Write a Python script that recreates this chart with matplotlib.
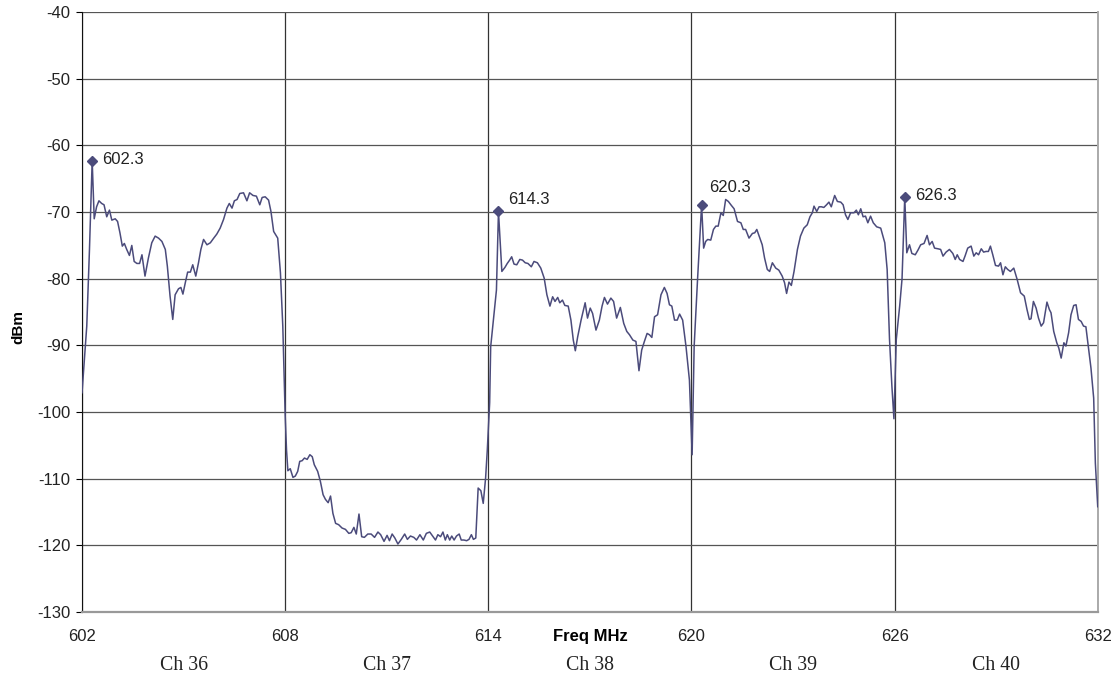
"""Spectrum sweep, Ch 36 - Ch 40"""

import matplotlib

matplotlib.use("Agg")
import matplotlib.pyplot as plt

# Trace (MHz, dBm)
freq = [
    602.00, 602.14, 602.22, 602.30, 602.36, 602.43, 602.50, 602.58, 602.65,
    602.73, 602.81, 602.88, 602.98, 603.05, 603.12, 603.19, 603.25, 603.32,
    603.40, 603.47, 603.54, 603.62, 603.70, 603.77, 603.86, 603.96, 604.06,
    604.16, 604.26, 604.36, 604.46, 604.52, 604.60, 604.68, 604.75, 604.85,
    604.92, 604.98, 605.05, 605.12, 605.20, 605.27, 605.36, 605.44, 605.51,
    605.59, 605.69, 605.79, 605.89, 605.98, 606.08, 606.18, 606.28, 606.35,
    606.43, 606.50, 606.58, 606.66, 606.77, 606.87, 606.95, 607.05, 607.15,
    607.25, 607.32, 607.41, 607.51, 607.58, 607.66, 607.78, 607.86, 607.93,
    608.00, 608.04, 608.08, 608.15, 608.23, 608.30, 608.37, 608.43, 608.50,
    608.57, 608.65, 608.73, 608.80, 608.86, 608.96, 609.04, 609.12, 609.19,
    609.27, 609.34, 609.41, 609.49, 609.58, 609.68, 609.78, 609.88, 609.95,
    610.03, 610.10, 610.18, 610.26, 610.34, 610.44, 610.54, 610.64, 610.74,
    610.82, 610.92, 611.01, 611.08, 611.16, 611.24, 611.33, 611.43, 611.53,
    611.61, 611.70, 611.80, 611.88, 611.98, 612.08, 612.17, 612.27, 612.37,
    612.44, 612.51, 612.59, 612.66, 612.73, 612.79, 612.86, 612.92, 612.99,
    613.06, 613.14, 613.20, 613.28, 613.36, 613.43, 613.50, 613.56, 613.63,
    613.70, 613.78, 613.85, 613.92, 613.97, 614.04, 614.07, 614.17, 614.24,
    614.30, 614.40, 614.49, 614.56, 614.63, 614.69, 614.76, 614.84, 614.93,
    615.01, 615.09, 615.17, 615.27, 615.35, 615.45, 615.55, 615.65, 615.73,
    615.82, 615.90, 615.97, 616.05, 616.11, 616.19, 616.26, 616.36, 616.44,
    616.51, 616.57, 616.64, 616.74, 616.86, 616.93, 617.01, 617.08, 617.18,
    617.28, 617.36, 617.43, 617.52, 617.62, 617.70, 617.79, 617.90, 618.00,
    618.09, 618.17, 618.27, 618.36, 618.45, 618.53, 618.61, 618.69, 618.76,
    618.83, 618.91, 619.00, 619.10, 619.20, 619.28, 619.35, 619.42, 619.50,
    619.58, 619.65, 619.74, 619.84, 619.94, 620.02, 620.08, 620.18, 620.30,
    620.36, 620.42, 620.48, 620.57, 620.65, 620.72, 620.79, 620.87, 620.94,
    621.01, 621.09, 621.18, 621.26, 621.36, 621.46, 621.53, 621.60, 621.70,
    621.80, 621.87, 621.93, 622.00, 622.09, 622.16, 622.24, 622.31, 622.39,
    622.49, 622.58, 622.68, 622.75, 622.81, 622.88, 622.95, 623.03, 623.13,
    623.22, 623.32, 623.42, 623.50, 623.57, 623.62, 623.70, 623.77, 623.84,
    623.91, 623.99, 624.06, 624.13, 624.23, 624.31, 624.41, 624.48, 624.55,
    624.62, 624.70, 624.80, 624.87, 624.93, 625.00, 625.07, 625.14, 625.21,
    625.29, 625.37, 625.47, 625.59, 625.71, 625.78, 625.85, 625.92, 625.98,
    626.05, 626.15, 626.22, 626.30, 626.36, 626.44, 626.51, 626.61, 626.69,
    626.77, 626.87, 626.96, 627.03, 627.11, 627.18, 627.28, 627.36, 627.43,
    627.52, 627.62, 627.72, 627.79, 627.85, 627.92, 628.02, 628.08, 628.16,
    628.26, 628.34, 628.41, 628.48, 628.56, 628.63, 628.70, 628.77, 628.83,
    628.90, 628.98, 629.07, 629.13, 629.20, 629.27, 629.34, 629.42, 629.52,
    629.62, 629.72, 629.83, 629.91, 629.98, 630.03, 630.10, 630.18, 630.25,
    630.33, 630.40, 630.50, 630.57, 630.62, 630.70, 630.79, 630.85, 630.92,
    631.00, 631.06, 631.14, 631.21, 631.29, 631.36, 631.43, 631.51, 631.58,
    631.65, 631.72, 631.80, 631.88, 631.93, 632.00,
]
dbm = [
    -97.1, -87.1, -75.6, -62.3, -71.0, -69.2, -68.3, -68.7, -68.9,
    -70.7, -69.7, -71.2, -71.0, -71.4, -73.1, -75.1, -74.7, -75.6,
    -76.5, -75.0, -77.4, -77.7, -77.7, -76.4, -79.6, -76.9, -74.6,
    -73.6, -73.9, -74.4, -75.6, -78.1, -82.6, -86.1, -82.4, -81.5,
    -81.3, -82.3, -80.6, -79.0, -79.0, -77.9, -79.6, -77.6, -75.6,
    -74.1, -74.9, -74.6, -73.9, -73.3, -72.4, -71.1, -69.4, -68.7,
    -69.4, -68.3, -68.1, -67.2, -67.1, -68.3, -67.1, -67.5, -67.6,
    -68.9, -67.8, -67.7, -68.2, -69.9, -72.9, -73.9, -79.1, -87.1,
    -100.4, -105.7, -108.8, -108.5, -109.8, -109.6, -108.9, -107.4, -107.3,
    -106.9, -107.1, -106.4, -106.7, -107.9, -108.9, -110.4, -112.4, -113.1,
    -113.6, -112.6, -115.2, -116.7, -116.9, -117.4, -117.6, -118.2, -118.1,
    -117.3, -118.3, -115.3, -118.7, -118.8, -118.3, -118.3, -118.8, -118.0,
    -118.4, -119.4, -118.5, -119.3, -118.3, -118.9, -119.8, -119.1, -118.3,
    -119.1, -118.6, -118.8, -119.2, -118.4, -119.2, -118.2, -118.0, -118.7,
    -119.2, -118.4, -118.7, -118.0, -119.2, -118.4, -119.2, -118.6, -119.2,
    -118.6, -118.3, -119.2, -119.2, -119.3, -119.1, -118.4, -119.1, -118.9,
    -111.4, -111.8, -113.7, -109.9, -105.7, -98.6, -90.2, -85.2, -81.7,
    -69.9, -78.9, -78.3, -77.7, -77.2, -76.7, -77.8, -77.9, -77.1,
    -77.2, -77.6, -77.7, -78.2, -77.4, -77.6, -78.4, -79.9, -82.4,
    -84.1, -82.7, -83.4, -82.8, -83.6, -83.2, -84.0, -84.1, -86.2,
    -89.2, -90.8, -88.7, -86.2, -83.6, -85.9, -84.4, -85.2, -87.7,
    -86.2, -84.1, -82.8, -83.8, -82.9, -83.4, -85.9, -84.3, -86.7,
    -87.9, -88.4, -89.2, -89.4, -93.8, -90.7, -89.4, -88.2, -88.4,
    -88.8, -85.7, -85.4, -82.4, -81.3, -82.2, -83.9, -84.1, -86.2,
    -86.2, -85.3, -86.2, -90.2, -95.2, -106.4, -90.1, -80.1, -68.9,
    -75.4, -74.4, -74.1, -74.2, -72.6, -72.1, -72.1, -70.1, -70.5,
    -68.1, -68.4, -69.0, -69.5, -71.4, -71.6, -72.6, -72.6, -73.9,
    -73.2, -73.1, -72.6, -73.6, -74.9, -76.9, -78.6, -78.9, -77.6,
    -78.4, -78.7, -79.6, -80.6, -82.2, -80.5, -81.0, -78.9, -75.6,
    -73.6, -72.4, -71.9, -70.7, -70.1, -69.1, -69.9, -69.2, -69.2,
    -69.3, -68.9, -68.5, -69.2, -67.5, -68.4, -68.5, -68.9, -70.4,
    -71.1, -70.1, -70.1, -69.7, -70.4, -69.5, -70.7, -70.6, -71.6,
    -70.6, -71.6, -72.2, -72.4, -74.6, -78.6, -89.1, -96.1, -101.0,
    -89.1, -84.1, -80.0, -67.7, -76.1, -74.9, -76.2, -76.4, -75.7,
    -74.9, -74.7, -73.5, -74.9, -74.4, -75.4, -75.5, -75.6, -76.6,
    -76.0, -75.6, -76.2, -77.1, -76.4, -77.1, -77.4, -76.6, -75.4,
    -75.1, -76.6, -76.1, -76.4, -75.5, -76.0, -75.9, -75.9, -75.1,
    -76.4, -78.0, -78.1, -77.6, -79.4, -78.2, -78.6, -78.9, -78.4,
    -80.1, -82.1, -82.6, -84.6, -86.1, -86.0, -83.4, -84.4, -85.9,
    -87.1, -86.6, -83.5, -84.6, -85.1, -87.9, -89.6, -90.4, -91.9,
    -89.6, -90.1, -88.1, -85.4, -84.0, -83.9, -86.1, -86.4, -87.1,
    -87.2, -90.1, -93.4, -97.9, -107.7, -114.2,
]

# Carrier peaks marked on the trace
peak_freq = [602.3, 614.3, 620.3, 626.3]
peak_dbm = [-62.3, -69.9, -68.9, -67.7]

# Channel names, centred in each 6 MHz slot
channels = ["Ch 36", "Ch 37", "Ch 38", "Ch 39", "Ch 40"]
channel_centres = [605, 611, 617, 623, 629]

x_ticks = [602, 608, 614, 620, 626, 632]
y_ticks = list(range(-130, -39, 10))

line_color = "#4b4b7b"
sans = "Liberation Sans"

fig = plt.figure(figsize=(11.19, 6.77), dpi=100)
ax = fig.add_axes([0.0733, 0.096, 0.9077, 0.886])

ax.plot(freq, dbm, color=line_color, linewidth=1.1, zorder=3)
ax.plot(peak_freq, peak_dbm, linestyle="none", marker="D", markersize=5,
        color=line_color, zorder=4)

# label offsets in pixels, one per peak
label_offsets = [(10, 1), (10, 12), (8, 17), (10, 1)]
for f, d, off in zip(peak_freq, peak_dbm, label_offsets):
    ax.annotate(f"{f:.1f}", (f, d), xytext=off, textcoords="offset pixels",
                ha="left", va="center", fontsize=12, family=sans,
                color="#222222")

ax.set_xlim(602, 632)
ax.set_ylim(-130, -40)
ax.set_xticks(x_ticks)
ax.set_yticks(y_ticks)
ax.set_xticklabels([str(t) for t in x_ticks], family=sans, fontsize=12,
                   color="#222222")
ax.set_yticklabels([str(t) for t in y_ticks], family=sans, fontsize=12,
                   color="#222222")
ax.tick_params(axis="x", length=0, pad=12)
ax.tick_params(axis="y", length=4.5, width=0.8, pad=4)

ax.grid(axis="y", color="#555555", linewidth=0.9)
ax.grid(axis="x", color="#333333", linewidth=0.9)
ax.set_axisbelow(True)

ax.spines["top"].set_visible(False)
ax.spines["left"].set_color("#111111")
ax.spines["bottom"].set_color("#999999")
ax.spines["bottom"].set_linewidth(1.6)
ax.spines["right"].set_color("#aaaaaa")
ax.spines["right"].set_linewidth(1.4)

fig.text(18 / 1119, 1 - 327 / 677, "dBm", rotation=90, ha="center",
         va="center", fontsize=11, fontweight="bold", family=sans)

# axis title sits in the tick label row, between 614 and 620
ax.text(617, -133.6, "Freq MHz", ha="center", va="center", fontsize=12,
        fontweight="bold", family=sans, clip_on=False)

for name, c in zip(channels, channel_centres):
    ax.text(c, -138.0, name, ha="center", va="center", fontsize=14.3,
            family="Liberation Serif", color="#222222", clip_on=False)

fig.savefig("out.png", dpi=100)
